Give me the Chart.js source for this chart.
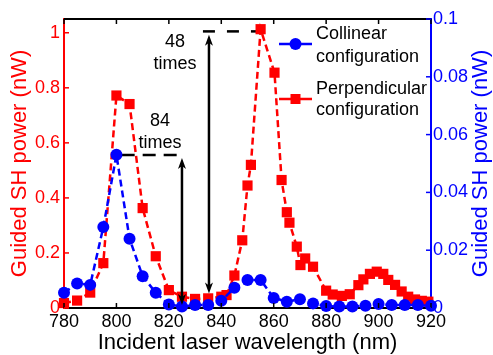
<!DOCTYPE html>
<html>
<head>
<meta charset="utf-8">
<script src="https://cdn.jsdelivr.net/npm/chart.js@4.4.0/dist/chart.umd.min.js"></script>
<style>
  html, body { margin: 0; padding: 0; background: #fff; }
</style>
</head>
<body>
<canvas id="chart" width="493" height="355"></canvas>
<script>
// tick labels
const wavelengthTicks = [780, 800, 820, 840, 860, 880, 900, 920];
const leftTicks = [0, 0.2, 0.4, 0.6, 0.8, 1];
const rightTicks = [0, 0.02, 0.04, 0.06, 0.08, 0.1];

// collinear configuration (right axis, nW)
const collinearNm = [780, 785, 790, 795, 800, 805, 810, 815, 820, 825, 830, 835, 840, 845, 850,
  855, 860, 865, 870, 875, 880, 885, 890, 895, 900, 905, 910, 915, 920];
const collinearPower = [0.0053, 0.0085, 0.008, 0.028, 0.053, 0.024, 0.011, 0.0053, 0.0012, 0.0005,
  0.001, 0.001, 0.0025, 0.007, 0.0097, 0.0097, 0.0035, 0.0022, 0.003, 0.0016, 0.0007, 0.0005,
  0.0005, 0.0008, 0.0014, 0.001, 0.001, 0.001, 0.0008];

// perpendicular configuration (left axis, nW)
const perpNm = [780, 785, 790, 795, 800, 805, 810, 815, 820, 825, 830, 835, 840, 842, 845, 848,
  850, 851.3, 855, 860.3, 863, 865, 866, 868.8, 870.2, 872, 875, 880, 882.5, 886, 889, 892.3,
  894.2, 896.7, 899.3, 901.8, 903.7, 906.3, 908.8, 911.3, 913.9, 916.5, 919];
const perpPower = [0.018, 0.027, 0.056, 0.163, 0.772, 0.741, 0.363, 0.188, 0.065, 0.041, 0.033,
  0.035, 0.041, 0.047, 0.118, 0.246, 0.445, 0.52, 1.013, 0.855, 0.465, 0.348, 0.31, 0.223, 0.156,
  0.18, 0.15, 0.063, 0.049, 0.044, 0.05, 0.083, 0.104, 0.124, 0.132, 0.124, 0.102, 0.084, 0.06,
  0.041, 0.031, 0.026, 0.023];

// annotations (left axis units)
const dash84Nm = [802, 825];
const dash84Level = [0.556, 0.556];
const dash48Nm = [833, 855];
const dash48Level = [1.005, 1.005];
const arrowNm = [825, 835.3];
const arrowTop = [0.545, 0.993];
const arrowBottom = [0.011, 0.053];
const noteText = ['48', 'times', '84', 'times'];
const noteNm = [822.3, 822.3, 816.6, 816.6];
const noteLevel = [0.95, 0.868, 0.662, 0.581];

const RED = '#ff0000';
const BLUE = '#0000ff';
const FONT = "'Liberation Sans', Arial, sans-serif";
Chart.defaults.font.family = FONT;

const pts = (xs, ys) => xs.map((x, i) => ({ x: x, y: ys[i] }));
const plain = v => String(+Number(v).toFixed(4));

const extras = {
  id: 'extras',
  afterDraw(chart) {
    const ctx = chart.ctx;
    const area = chart.chartArea;
    const x = chart.scales.x, y = chart.scales.y, y2 = chart.scales.y2;
    ctx.save();

    // top frame + inward ticks
    ctx.lineWidth = 2;
    ctx.strokeStyle = '#000';
    ctx.beginPath();
    ctx.moveTo(area.left, area.top);
    ctx.lineTo(area.right, area.top);
    ctx.stroke();
    ctx.lineWidth = 1.5;
    wavelengthTicks.forEach(v => {
      const px = x.getPixelForValue(v);
      ctx.beginPath();
      ctx.moveTo(px, area.bottom); ctx.lineTo(px, area.bottom - 5);
      ctx.moveTo(px, area.top); ctx.lineTo(px, area.top + 5);
      ctx.stroke();
    });
    ctx.strokeStyle = RED;
    leftTicks.forEach(v => {
      const py = y.getPixelForValue(v);
      ctx.beginPath(); ctx.moveTo(area.left, py); ctx.lineTo(area.left + 5, py); ctx.stroke();
    });
    ctx.strokeStyle = BLUE;
    rightTicks.forEach(v => {
      const py = y2.getPixelForValue(v);
      ctx.beginPath(); ctx.moveTo(area.right, py); ctx.lineTo(area.right - 5, py); ctx.stroke();
    });

    // double headed arrows
    ctx.strokeStyle = '#000';
    ctx.fillStyle = '#000';
    ctx.lineWidth = 2.5;
    arrowNm.forEach((nm, i) => {
      const px = x.getPixelForValue(nm);
      const top = y.getPixelForValue(arrowTop[i]);
      const bot = y.getPixelForValue(arrowBottom[i]);
      ctx.beginPath(); ctx.moveTo(px, top + 6); ctx.lineTo(px, bot - 6); ctx.stroke();
      ctx.beginPath();
      ctx.moveTo(px, top); ctx.lineTo(px - 4, top + 11); ctx.lineTo(px, top + 8); ctx.lineTo(px + 4, top + 11);
      ctx.closePath(); ctx.fill();
      ctx.beginPath();
      ctx.moveTo(px, bot); ctx.lineTo(px - 4, bot - 11); ctx.lineTo(px, bot - 8); ctx.lineTo(px + 4, bot - 11);
      ctx.closePath(); ctx.fill();
    });

    // notes
    ctx.font = '18px ' + FONT;
    ctx.textAlign = 'center';
    ctx.textBaseline = 'alphabetic';
    noteText.forEach((t, i) => {
      ctx.fillText(t, x.getPixelForValue(noteNm[i]), y.getPixelForValue(noteLevel[i]));
    });

    // legend
    const legend = [
      { lines: ['Collinear', 'configuration'], color: BLUE, circle: true, y: 44, base: [39, 61.5] },
      { lines: ['Perpendicular', 'configuration'], color: RED, circle: false, y: 99, base: [93.5, 114.5] }
    ];
    ctx.textAlign = 'left';
    legend.forEach(item => {
      ctx.strokeStyle = item.color;
      ctx.fillStyle = item.color;
      ctx.lineWidth = 2.5;
      ctx.beginPath(); ctx.moveTo(279, item.y); ctx.lineTo(312, item.y); ctx.stroke();
      ctx.beginPath();
      if (item.circle) ctx.arc(295.5, item.y, 6, 0, Math.PI * 2);
      else ctx.rect(290.5, item.y - 5, 10, 10);
      ctx.fill();
      ctx.fillStyle = '#000';
      item.lines.forEach((l, k) => ctx.fillText(l, 316, item.base[k]));
    });

    // right axis title (reads bottom to top)
    ctx.save();
    ctx.translate(481, (area.top + area.bottom) / 2);
    ctx.rotate(-Math.PI / 2);
    ctx.font = '22px ' + FONT;
    ctx.fillStyle = BLUE;
    ctx.textAlign = 'center';
    ctx.textBaseline = 'middle';
    ctx.fillText('Guided SH power (nW)', 0, 0);
    ctx.restore();

    ctx.restore();
  }
};

new Chart(document.getElementById('chart'), {
  type: 'line',
  data: {
    datasets: [
      {
        label: 'Collinear configuration',
        data: pts(collinearNm, collinearPower),
        yAxisID: 'y2',
        borderColor: BLUE,
        backgroundColor: BLUE,
        borderWidth: 2.5,
        borderDash: [7, 4],
        pointStyle: 'circle',
        pointRadius: 6,
        pointBorderWidth: 0,
        clip: false
      },
      {
        label: 'Perpendicular configuration',
        data: pts(perpNm, perpPower),
        yAxisID: 'y',
        borderColor: RED,
        backgroundColor: RED,
        borderWidth: 2.5,
        borderDash: [7, 4],
        pointStyle: 'rect',
        pointRadius: 7.2,
        pointBorderWidth: 0,
        clip: false
      },
      {
        label: '84 times',
        data: pts(dash84Nm, dash84Level),
        yAxisID: 'y',
        borderColor: '#000',
        borderWidth: 2.5,
        borderDash: [13, 8],
        pointRadius: 0
      },
      {
        label: '48 times',
        data: pts(dash48Nm, dash48Level),
        yAxisID: 'y',
        borderColor: '#000',
        borderWidth: 2.5,
        borderDash: [12, 12],
        pointRadius: 0
      }
    ]
  },
  options: {
    responsive: false,
    animation: false,
    layout: { padding: { top: 19, left: 0, right: 0, bottom: 0 } },
    plugins: { legend: { display: false }, tooltip: { enabled: false } },
    scales: {
      x: {
        type: 'linear',
        min: 780,
        max: 920,
        afterBuildTicks: s => { s.ticks = wavelengthTicks.map(v => ({ value: v })); },
        afterFit: s => { s.height = 47; },
        grid: { display: false, drawTicks: false },
        border: { display: true, color: '#000', width: 2 },
        ticks: { color: '#000', font: { size: 18 }, padding: 3, maxRotation: 0, autoSkip: false, callback: plain },
        title: {
          display: true, text: 'Incident laser wavelength (nm)', color: '#000',
          font: { size: 22, lineHeight: 1.1 }, padding: 0
        }
      },
      y: {
        position: 'left',
        min: 0,
        max: 1.05,
        afterBuildTicks: s => { s.ticks = leftTicks.map(v => ({ value: v })); },
        afterFit: s => { s.width = 64; },
        grid: { display: false, drawTicks: false },
        border: { display: true, color: RED, width: 2 },
        ticks: { color: RED, font: { size: 18 }, padding: 4, callback: plain },
        title: {
          display: true, text: 'Guided SH power (nW)', color: RED,
          font: { size: 22, lineHeight: 1.2 }, padding: { top: 7, bottom: 0 }
        }
      },
      y2: {
        position: 'right',
        min: 0,
        max: 0.1,
        afterBuildTicks: s => { s.ticks = rightTicks.map(v => ({ value: v })); },
        afterFit: s => { s.width = 62; },
        grid: { display: false, drawTicks: false },
        border: { display: true, color: BLUE, width: 2 },
        ticks: { color: BLUE, font: { size: 18 }, padding: 2, callback: plain }
      }
    }
  },
  plugins: [extras]
});
</script>
</body>
</html>
